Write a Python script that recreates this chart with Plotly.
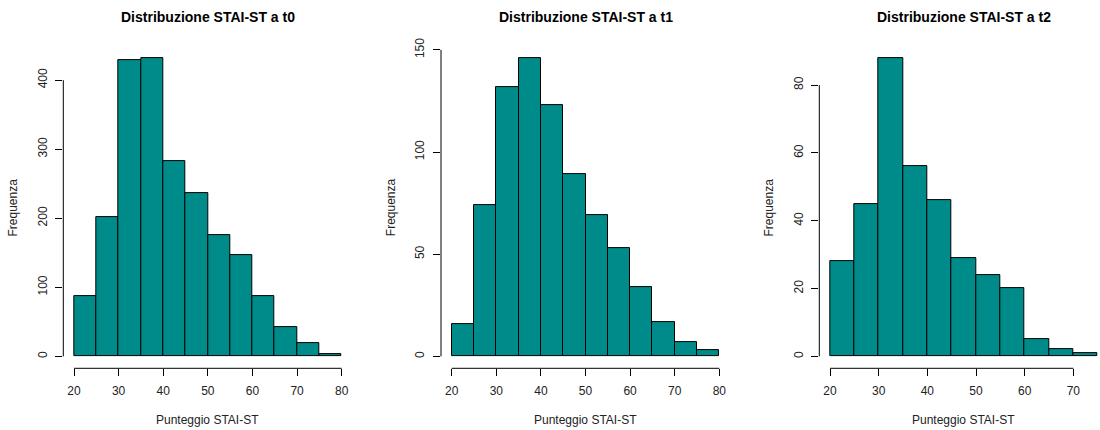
import plotly.graph_objects as go

# ---- data ----
bin_width = 5
edges_t0 = [20, 25, 30, 35, 40, 45, 50, 55, 60, 65, 70, 75, 80]
counts_t0 = [87, 201, 429, 432, 283, 237, 176, 147, 87, 42, 19, 3]
edges_t1 = [20, 25, 30, 35, 40, 45, 50, 55, 60, 65, 70, 75, 80]
counts_t1 = [16, 74, 132, 146, 123, 89, 69, 53, 34, 17, 7, 3]
edges_t2 = [20, 25, 30, 35, 40, 45, 50, 55, 60, 65, 70, 75]
counts_t2 = [28, 45, 88, 56, 46, 29, 24, 20, 5, 2, 1]

xticks_t0 = [20, 30, 40, 50, 60, 70, 80]
xticks_t1 = [20, 30, 40, 50, 60, 70, 80]
xticks_t2 = [20, 30, 40, 50, 60, 70]
yticks_t0 = [0, 100, 200, 300, 400]
yticks_t1 = [0, 50, 100, 150]
yticks_t2 = [0, 20, 40, 60, 80]

titles = ["Distribuzione STAI-ST a t0", "Distribuzione STAI-ST a t1", "Distribuzione STAI-ST a t2"]
xlabel = "Punteggio STAI-ST"
ylabel = "Frequenza"

panels = [
    (edges_t0, counts_t0, xticks_t0, yticks_t0),
    (edges_t1, counts_t1, xticks_t1, yticks_t1),
    (edges_t2, counts_t2, xticks_t2, yticks_t2),
]

# ---- layout geometry (pixels in a 1100x430 page) ----
W, H = 1100, 430
x_domains_px = [(63.3, 352.4), (441.0, 730.0), (819.3, 1100.0)]
y_dom = (1 - 368.3 / H, 1 - 46.1 / H)
fill = "#008B8B"
font_family = "Liberation Sans, Arial, Helvetica, sans-serif"

fig = go.Figure()
layout = dict(
    width=W, height=H,
    margin=dict(l=0, r=0, t=0, b=0, pad=0, autoexpand=False),
    paper_bgcolor="white", plot_bgcolor="white",
    showlegend=False, bargap=0,
    font=dict(family=font_family, size=12, color="black"),
)
shapes = []
annotations = []

for i, (edges, counts, xt, yt) in enumerate(panels):
    n = i + 1
    xa = "x" if n == 1 else f"x{n}"
    ya = "y" if n == 1 else f"y{n}"
    centers = [(edges[k] + edges[k + 1]) / 2 for k in range(len(counts))]
    fig.add_trace(go.Bar(
        x=centers, y=counts, width=bin_width,
        marker=dict(color=fill, line=dict(color="black", width=1)),
        xaxis=xa, yaxis=ya, hoverinfo="x+y",
    ))
    lo, hi = edges[0], edges[-1]
    pad = 0.04 * (hi - lo)
    x0, x1 = lo - pad, hi + pad
    px0, px1 = x_domains_px[i]
    if i == 2:
        # the reference picture is clipped at the right page edge
        ppu = 4.867
        x1 = x0 + (px1 - px0) / ppu
    ymax = max(counts)
    yr = [-0.04 * ymax, 1.04 * ymax]

    layout["xaxis" if n == 1 else f"xaxis{n}"] = dict(
        domain=[px0 / W, px1 / W], range=[x0, x1], anchor=ya,
        tickmode="array", tickvals=xt, ticktext=[str(v) for v in xt],
        ticks="outside", ticklen=7, tickwidth=1, tickcolor="black",
        showline=False, showgrid=False, zeroline=False, automargin=False,
        ticklabelstandoff=4, tickfont=dict(size=12, color="#222"),
        fixedrange=True,
    )
    layout["yaxis" if n == 1 else f"yaxis{n}"] = dict(
        domain=list(y_dom), range=yr, anchor=xa,
        tickmode="array", tickvals=yt, ticktext=[str(v) for v in yt],
        ticks="outside", ticklen=7, tickwidth=1, tickcolor="black",
        tickangle=-90, automargin=False,
        showline=False, showgrid=False, zeroline=False,
        ticklabelstandoff=4, tickfont=dict(size=12, color="#222"),
        fixedrange=True,
    )
    # R-style detached axis lines spanning first to last tick
    shapes.append(dict(type="line", xref=xa, yref=f"{ya} domain",
                       x0=xt[0], x1=xt[-1], y0=0, y1=0,
                       line=dict(color="black", width=1)))
    shapes.append(dict(type="line", xref=f"{xa} domain", yref=ya,
                       x0=0, x1=0, y0=yt[0], y1=yt[-1],
                       line=dict(color="black", width=1)))
    mid = (lo + hi) / 2
    annotations.append(dict(text=f"<b>{titles[i]}</b>", xref=xa, yref="paper",
                            x=mid, y=1 - 17.5 / H, xanchor="center", yanchor="middle",
                            showarrow=False, font=dict(size=14, color="black")))
    annotations.append(dict(text=xlabel, xref=xa, yref="paper",
                            x=mid, y=1 - 419.5 / H, xanchor="center", yanchor="middle",
                            showarrow=False, font=dict(size=12, color="#222")))
    annotations.append(dict(text=ylabel, xref=f"{xa} domain", yref=f"{ya} domain",
                            x=0, y=0.5, xshift=-50, xanchor="center", yanchor="middle",
                            textangle=-90, showarrow=False,
                            font=dict(size=12, color="#222")))

layout["shapes"] = shapes
layout["annotations"] = annotations
fig.update_layout(**layout)
fig.write_html("out.html")
